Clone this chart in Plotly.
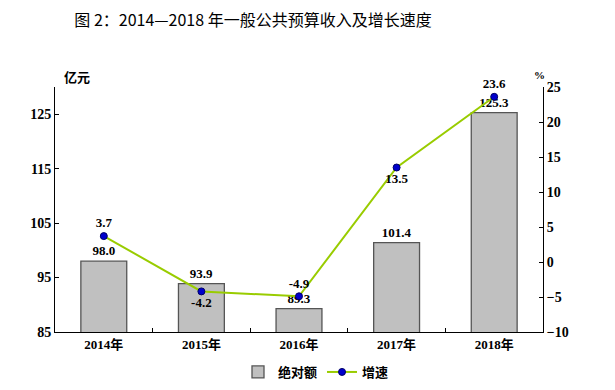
import plotly.graph_objects as go

years = ["2014年", "2015年", "2016年", "2017年", "2018年"]
amount = [98.0, 93.9, 89.3, 101.4, 125.3]
growth = [3.7, -4.2, -4.9, 13.5, 23.6]
growth_pos = ["top center", "bottom center", "top center", "bottom center", "top center"]
left_ticks = [85, 95, 105, 115, 125]
right_ticks = [-10, -5, 0, 5, 10, 15, 20, 25]

NUM = "Liberation Serif, Noto Sans CJK SC"
CJK = "Noto Sans CJK SC, Liberation Serif"

# page body has an 8px default margin; figure is sized to fill the rest
OFF = 8
W, H = 615 - OFF, 390 - OFF
L, T, R, B = 55 - OFF, 87 - OFF, 615 - 543, 390 - 332

fig = go.Figure()
fig.add_trace(go.Bar(
    x=years, y=amount, name="绝对额",
    marker=dict(color="#c0c0c0", line=dict(color="#555555", width=1.3)),
    width=0.47,
    text=[f"{v:.1f}" for v in amount], textposition="outside",
    textfont=dict(family=NUM, size=13, color="#000000", weight="bold"),
    cliponaxis=False,
))
fig.add_trace(go.Scatter(
    x=years, y=growth, name="增速", yaxis="y2",
    mode="lines+markers+text",
    line=dict(color="#99cc00", width=2),
    marker=dict(color="#0000cc", size=7, line=dict(color="#000066", width=1)),
    text=[f"{v:.1f}" for v in growth], textposition=growth_pos,
    textfont=dict(family=NUM, size=13, color="#000000", weight="bold"),
    cliponaxis=False,
))

fig.update_layout(
    width=W, height=H,
    margin=dict(l=L, r=R, t=T, b=B, autoexpand=False),
    paper_bgcolor="white", plot_bgcolor="white",
    bargap=0.53,
    title=dict(text="图 2：2014—2018 年一般公共预算收入及增长速度",
               x=(253 - OFF) / W, xanchor="center", y=1 - (20 - OFF) / H, yanchor="middle",
               xref="container", yref="container",
               font=dict(family=CJK, size=16, color="#000000")),
    xaxis=dict(showline=True, linecolor="#000000", linewidth=1,
               ticks="inside", ticklen=4, tickcolor="#000000", tickson="boundaries",
               tickfont=dict(family=NUM, size=13, color="#000000", weight="bold"),
               showgrid=False, automargin=False),
    yaxis=dict(range=[85, 130], tickvals=left_ticks, showline=True,
               linecolor="#000000", linewidth=1, ticks="inside", ticklen=4,
               tickcolor="#000000", showgrid=False, zeroline=False, automargin=False,
               tickfont=dict(family=NUM, size=14, color="#000000", weight="bold")),
    yaxis2=dict(range=[-10, 25], tickvals=right_ticks, overlaying="y", side="right",
                showline=True, linecolor="#000000", linewidth=1, ticks="inside",
                ticklen=4, tickcolor="#000000", showgrid=False, zeroline=False,
                automargin=False,
                tickfont=dict(family=NUM, size=14, color="#000000", weight="bold")),
    legend=dict(orientation="h", x=(316 - OFF) / W, xanchor="center", xref="container",
                y=1 - (372 - OFF) / H, yanchor="middle", yref="container",
                font=dict(family=CJK, size=13, color="#000000", weight="bold"),
                itemwidth=30),
    showlegend=True,
    annotations=[
        dict(text="亿元", x=(62 - OFF) / W, y=1 - (65 - OFF) / H,
             xref="paper", yref="paper", showarrow=False,
             font=dict(family=CJK, size=13, color="#000000", weight="bold")),
        dict(text="%", x=(547 - OFF) / W, y=1 - (67 - OFF) / H,
             xref="paper", yref="paper", showarrow=False,
             font=dict(family=NUM, size=11, color="#000000", weight="bold")),
    ],
)
# convert container fractions of the unit labels to paper coordinates
pw = W - L - R
ph = H - T - B
for a in fig.layout.annotations:
    px = a.x * W
    py = (1 - a.y) * H
    a.x = (px - L) / pw
    a.y = (H - B - py) / ph

fig.write_html("out.html")
